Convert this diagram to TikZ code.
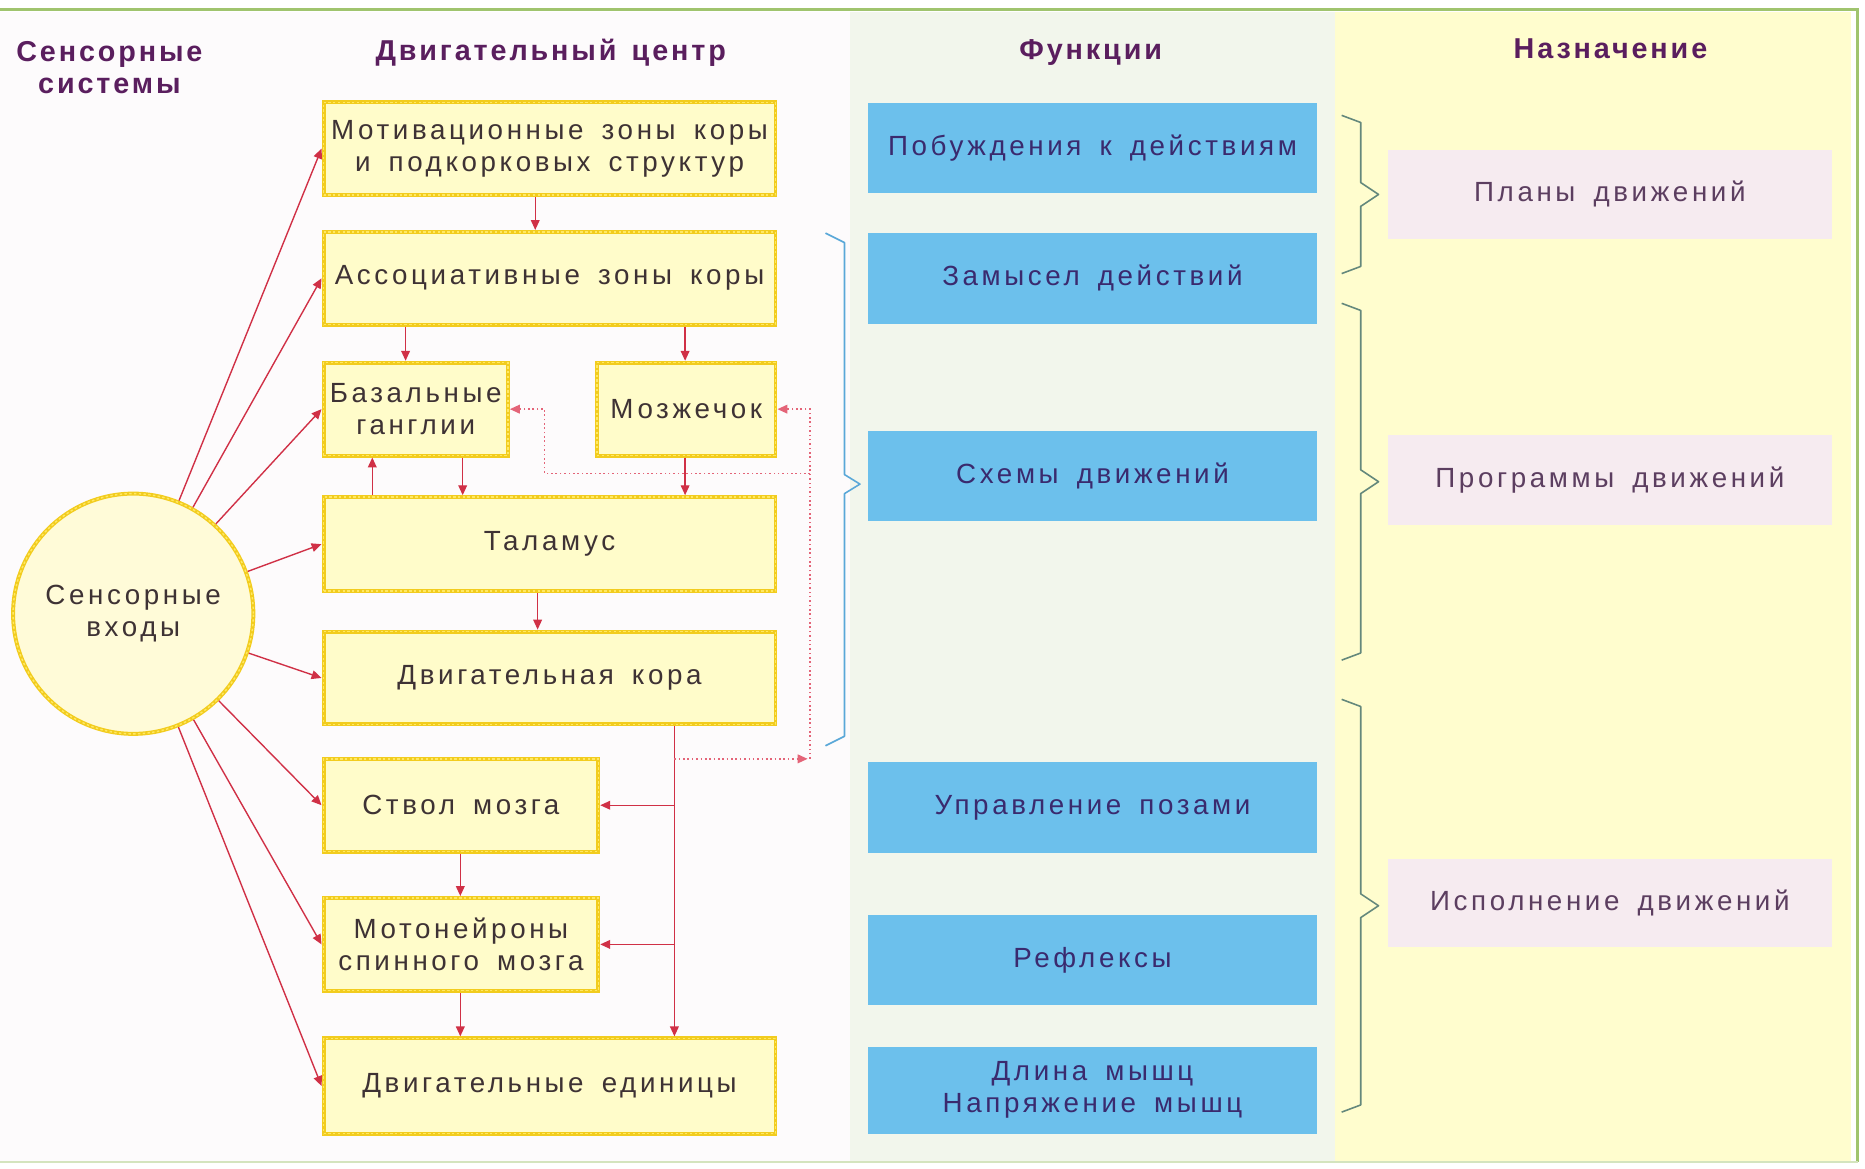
\documentclass[tikz,border=0pt]{standalone}
\usepackage{fontspec}
\setmainfont{Liberation Sans}
\newfontfamily\bodyfont[LetterSpace=13,WordSpace=1.6]{Liberation Sans}
\newfontfamily\hdrfont[LetterSpace=10,WordSpace=1.4]{Liberation Sans}
\usetikzlibrary{arrows.meta}

\definecolor{bgleft}{RGB}{253,251,252}
\definecolor{bgmid}{RGB}{242,246,236}
\definecolor{bgright}{RGB}{255,253,206}
\definecolor{frameg}{RGB}{160,196,110}
\definecolor{yfill}{RGB}{255,252,202}
\definecolor{ygold}{RGB}{242,204,30}
\definecolor{ylight}{RGB}{255,232,100}
\definecolor{cfill}{RGB}{255,251,216}
\definecolor{bfill}{RGB}{108,192,236}
\definecolor{pfill}{RGB}{246,235,240}
\definecolor{ared}{RGB}{208,48,70}
\definecolor{adot}{RGB}{228,100,120}
\definecolor{txtdark}{RGB}{62,50,52}
\definecolor{txtblue}{RGB}{58,42,110}
\definecolor{txtpink}{RGB}{92,62,96}
\definecolor{hdrcol}{RGB}{90,30,94}
\definecolor{bracebl}{RGB}{90,168,216}
\definecolor{bracegr}{RGB}{100,136,124}

\begin{document}
\begin{tikzpicture}[x=0.6pt,y=-0.6pt,
  txt/.style={font=\bodyfont\fontsize{14}{16.2}\selectfont, align=center},
  ybox/.style={txt, draw=ygold, line width=2pt, fill=yfill, inner sep=0pt, text=txtdark,
    postaction={draw=ylight, line width=0.7pt, dash pattern=on 1.2pt off 1.2pt}},
  bbox/.style={txt, fill=bfill, inner sep=0pt, text=txtblue, minimum width=377*0.6pt},
  pbox/.style={txt, fill=pfill, inner sep=0pt, text=txtpink, minimum width=373*0.6pt},
  hdr/.style={font=\hdrfont\bfseries\fontsize{14.5}{16.2}\selectfont, text=hdrcol, align=center},
  arr/.style={draw=ared, line width=0.7pt, -{Triangle[length=5pt,width=4.4pt]}},
  dotline/.style={draw=adot, line width=0.7pt, dash pattern=on 0.8pt off 1.4pt,
    -{Triangle[length=5pt,width=4.4pt]}},
  bracebk/.style={line width=0.8pt, line join=round}
]
\useasboundingbox (0,0) rectangle (1568,982);
\fill[white] (0,0) rectangle (1568,982);

% column backgrounds
\fill[bgleft]  (0,10) rectangle (715,976);
\fill[bgmid]   (715,10) rectangle (1122,976);
\fill[bgright] (1122,10) rectangle (1556,976);
\draw[frameg, line width=1.6pt] (0,8) -- (1562,8) -- (1562,977);
\draw[frameg!45, line width=1.4pt] (0,977) -- (1562,977);

% column headings
\node[hdr] (hsens) at (92,57) {Сенсорные\\системы};
\node[hdr] (hmot)  at (463,44) {Двигательный центр};
\node[hdr] (hfun)  at (917,44) {Функции};
\node[hdr] (hnaz)  at (1354,41) {Назначение};

% sensory input
\node[txt, circle, draw=ygold, line width=2pt, fill=cfill, text=txtdark,
      minimum size=202*0.6pt, inner sep=0pt,
      postaction={draw=ylight, line width=0.7pt, dash pattern=on 1.2pt off 1.2pt}]
      (sens) at (112,516) {Сенсорные\\входы};

% motor centre boxes
\node[ybox, minimum width=380*0.6pt, minimum height=78*0.6pt] (mot)   at (462,125) {Мотивационные зоны коры\\и подкорковых структур};
\node[ybox, minimum width=380*0.6pt, minimum height=78*0.6pt] (assoc) at (462,234) {Ассоциативные зоны коры};
\node[ybox, minimum width=155*0.6pt, minimum height=78*0.6pt] (basal) at (349.5,344) {Базальные\\ганглии};
\node[ybox, minimum width=150*0.6pt, minimum height=78*0.6pt] (cereb) at (577,344) {Мозжечок};
\node[ybox, minimum width=380*0.6pt, minimum height=79*0.6pt] (thal)  at (462,457.5) {Таламус};
\node[ybox, minimum width=380*0.6pt, minimum height=78*0.6pt] (motc)  at (462,570) {Двигательная кора};
\node[ybox, minimum width=231*0.6pt, minimum height=78*0.6pt] (stem)  at (387.5,677) {Ствол мозга};
\node[ybox, minimum width=231*0.6pt, minimum height=78*0.6pt] (moton) at (387.5,794) {Мотонейроны\\спинного мозга};
\node[ybox, minimum width=380*0.6pt, minimum height=80*0.6pt] (units) at (462,913) {Двигательные единицы};

% functions
\node[bbox, minimum height=75*0.6pt] (pob)  at (918.5,124.5) {Побуждения к действиям};
\node[bbox, minimum height=76*0.6pt] (zam)  at (918.5,234) {Замысел действий};
\node[bbox, minimum height=76*0.6pt] (sxem) at (918.5,400) {Схемы движений};
\node[bbox, minimum height=76*0.6pt] (upr)  at (918.5,679) {Управление позами};
\node[bbox, minimum height=76*0.6pt] (refl) at (918.5,807) {Рефлексы};
\node[bbox, minimum height=73*0.6pt] (dlin) at (918.5,916.5) {Длина мышц\\Напряжение мышц};

% purposes
\node[pbox, minimum height=75*0.6pt] (plan) at (1353.5,163.5) {Планы движений};
\node[pbox, minimum height=75*0.6pt] (prog) at (1353.5,403.5) {Программы движений};
\node[pbox, minimum height=74*0.6pt] (isp)  at (1353.5,759) {Исполнение движений};

% sensory projections
\foreach \t in {mot,assoc,basal,thal,motc,stem,moton,units}
  \draw[arr] (sens) -- (\t.west);

% vertical links
\coordinate (x450) at (450,0);
\coordinate (x341) at (341,0);
\coordinate (x575) at (576,0);
\coordinate (x389) at (389,0);
\coordinate (x313) at (313,0);
\coordinate (x452) at (452,0);
\coordinate (x387) at (387,0);
\coordinate (tx)   at (567,0);
\draw[arr] (mot.south -| x450) -- (assoc.north -| x450);
\draw[arr] (assoc.south -| x341) -- (basal.north -| x341);
\draw[arr] (assoc.south -| x575) -- (cereb.north -| x575);
\draw[arr] (basal.south -| x389) -- (thal.north -| x389);
\draw[arr] (thal.north -| x313) -- (basal.south -| x313);
\draw[arr] (cereb.south -| x575) -- (thal.north -| x575);
\draw[arr] (thal.south -| x452) -- (motc.north -| x452);
\draw[arr] (stem.south -| x387) -- (moton.north -| x387);
\draw[arr] (moton.south -| x387) -- (units.north -| x387);

% descending trunk from the motor cortex
\draw[arr] (motc.south -| tx) -- (units.north -| tx);
\draw[arr] (tx |- stem.east) -- (stem.east);
\draw[arr] (tx |- moton.east) -- (moton.east);

% feedback loop (dotted)
\coordinate (fb) at (679,638);
\coordinate (fup) at (681,638);
\coordinate (fj) at (681,398);
\coordinate (fk) at (458,398);
\draw[dotline] (tx |- fb) -- (fb);
\draw[dotline] (fup) -- (fup |- cereb.east) -- (cereb.east);
\draw[dotline] (fj) -- (fk) -- (fk |- basal.east) -- (basal.east);

% brace grouping the motor centre
\draw[bracebk, bracebl] (694,196) -- (710,204) -- (710,399) -- (723,407) -- (710,415) -- (710,619) -- (694,627);

% braces grouping the functions
\foreach \a/\b in {97/230, 255/555, 588/935}{
  \pgfmathsetmacro\m{(\a+\b)/2}
  \draw[bracebk, bracegr] (1128,\a) -- (1144,\a+6) -- (1144,\m-10) -- (1159,\m)
       -- (1144,\m+10) -- (1144,\b-6) -- (1128,\b);
}
\end{tikzpicture}
\end{document}
